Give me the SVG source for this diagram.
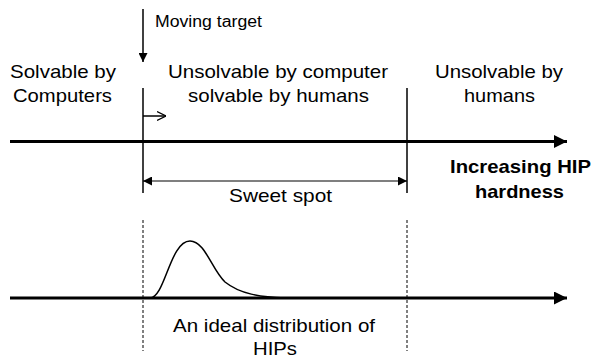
<svg xmlns="http://www.w3.org/2000/svg" width="593" height="358" viewBox="0 0 593 358">
<style>
text{font-family:"Liberation Sans",Arial,sans-serif;fill:#000}
.lbl{font-size:18.5px}
.sm{font-size:16px}
.b{font-size:18.5px;font-weight:bold}
.axis{stroke:#000;stroke-width:3;fill:none}
.thin{stroke:#000;stroke-width:1.5;fill:none}
.dash{stroke:#000;stroke-width:1;stroke-dasharray:3,2;fill:none}
</style>
<defs>
<marker id="big" viewBox="0 0 10 10" refX="10" refY="5" markerWidth="20" markerHeight="13" markerUnits="userSpaceOnUse" orient="auto"><path d="M0,0 L10,5 L0,10 z" fill="#000"/></marker>
<marker id="mid" viewBox="0 0 10 10" refX="10" refY="5" markerWidth="14" markerHeight="9" markerUnits="userSpaceOnUse" orient="auto-start-reverse"><path d="M0,0 L10,5 L0,10 z" fill="#000"/></marker>
<marker id="open" viewBox="0 0 10 10" refX="10" refY="5" markerWidth="9" markerHeight="12" markerUnits="userSpaceOnUse" orient="auto"><path d="M0,0 L10,5 L0,10" fill="none" stroke="#000" stroke-width="1.5"/></marker>
</defs>
<g id="connectors">
<line class="axis" x1="10" y1="141.5" x2="567" y2="141.5" marker-end="url(#big)"/>
<line class="axis" x1="10" y1="298" x2="567" y2="298" marker-end="url(#big)"/>
<line class="thin" x1="143" y1="88" x2="143" y2="193"/>
<line class="thin" x1="407" y1="88" x2="407" y2="193"/>
<line class="thin" x1="143" y1="9" x2="143" y2="62" marker-end="url(#mid)"/>
<line class="thin" x1="143" y1="116" x2="166" y2="116" marker-end="url(#open)"/>
<line stroke="#000" stroke-width="1.2" x1="143" y1="181" x2="407" y2="181" marker-start="url(#mid)" marker-end="url(#mid)"/>
<line class="dash" x1="143" y1="220" x2="143" y2="351"/>
<line class="dash" x1="407" y1="220" x2="407" y2="351"/>
</g>
<g id="curve">
<path class="thin" stroke-width="1.2" d="M150 298 C165 298,170 241,190 241 C205 241,212 270,225 282 C240 294,260 297,285 298"/>
</g>
<g id="moving-target"><text class="sm" x="155" y="27" textLength="107" lengthAdjust="spacingAndGlyphs">Moving target</text></g>
<g id="solvable-computers">
<text class="lbl" x="10" y="78" textLength="106" lengthAdjust="spacingAndGlyphs">Solvable by</text>
<text class="lbl" x="13" y="102" textLength="99" lengthAdjust="spacingAndGlyphs">Computers</text>
</g>
<g id="unsolvable-computers">
<text class="lbl" x="168" y="78" textLength="220" lengthAdjust="spacingAndGlyphs">Unsolvable by computer</text>
<text class="lbl" x="188" y="102" textLength="181" lengthAdjust="spacingAndGlyphs">solvable by humans</text>
</g>
<g id="unsolvable-humans">
<text class="lbl" x="435" y="78" textLength="128" lengthAdjust="spacingAndGlyphs">Unsolvable by</text>
<text class="lbl" x="464" y="102" textLength="71" lengthAdjust="spacingAndGlyphs">humans</text>
</g>
<g id="hardness">
<text class="b" x="450" y="173" textLength="141" lengthAdjust="spacingAndGlyphs">Increasing HIP</text>
<text class="b" x="475" y="198" textLength="89" lengthAdjust="spacingAndGlyphs">hardness</text>
</g>
<g id="sweet-spot"><text class="lbl" x="229" y="202" textLength="103" lengthAdjust="spacingAndGlyphs">Sweet spot</text></g>
<g id="distribution">
<text class="lbl" x="173" y="332" textLength="202" lengthAdjust="spacingAndGlyphs">An ideal distribution of</text>
<text class="lbl" x="253" y="355" textLength="44" lengthAdjust="spacingAndGlyphs">HIPs</text>
</g>
</svg>
